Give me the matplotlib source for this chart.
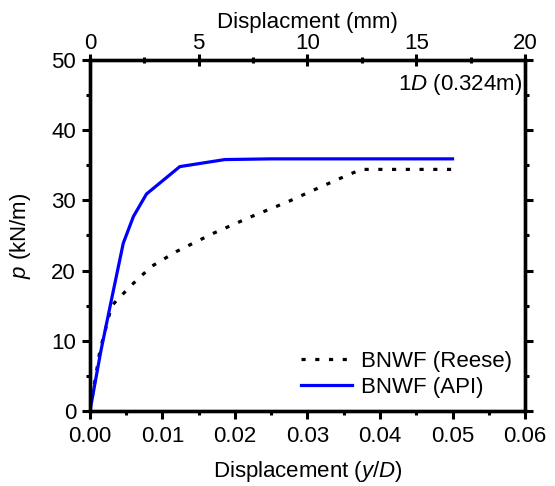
import matplotlib.pyplot as plt
from matplotlib.ticker import MultipleLocator

plt.rcParams['font.family'] = ['Liberation Sans', 'DejaVu Sans']
plt.rcParams['mathtext.fontset'] = 'custom'
plt.rcParams['mathtext.it'] = 'Liberation Sans:italic'
plt.rcParams['mathtext.rm'] = 'Liberation Sans'

# y/D and p (kN/m)
reese_x = [0.0, 0.0014, 0.003, 0.0057, 0.0085, 0.0119, 0.017, 0.0223, 0.0273, 0.0318, 0.036, 0.0375, 0.05]
reese_p = [0.0, 8.7, 15.0, 17.9, 20.6, 22.7, 25.3, 27.7, 29.8, 31.9, 33.8, 34.4, 34.4]

api_x = [0.0, 0.0015, 0.003, 0.0046, 0.006, 0.0078, 0.0124, 0.0186, 0.025, 0.05]
api_p = [0.0, 8.5, 16.0, 23.9, 27.7, 30.9, 34.8, 35.8, 35.9, 35.9]

fs = 16

fig = plt.figure(figsize=(5.55, 4.86), dpi=100)
ax = fig.add_axes([0.162, 0.154, 0.784, 0.723])

ax.plot(reese_x, reese_p, color='black', lw=2.3, linestyle=(0, (1.3, 3.0)), label='BNWF (Reese)')
ax.plot(api_x, api_p, color='#0000ff', lw=2.3, label='BNWF (API)')

ax.set_xlim(0, 0.06)
ax.set_ylim(0, 50)
ax.xaxis.set_major_locator(MultipleLocator(0.01))
ax.xaxis.set_minor_locator(MultipleLocator(0.005))
ax.yaxis.set_major_locator(MultipleLocator(10))
ax.yaxis.set_minor_locator(MultipleLocator(5))
ax.xaxis.set_major_formatter(plt.FormatStrFormatter('%.2f'))

for s in ax.spines.values():
    s.set_linewidth(2.4)
ax.tick_params(which='both', direction='out', width=2.2, labelsize=fs, right=True)
ax.tick_params(which='major', length=6)
ax.tick_params(which='minor', length=3)
ax.tick_params(axis='x', pad=5)
ax.tick_params(axis='y', pad=4)

ax.set_xlabel('Displacement ($\\mathit{y/D}$)', fontsize=fs, labelpad=8)
ax.set_ylabel('$\\mathit{p}$ (kN/m)', fontsize=fs, labelpad=13)

top = ax.twiny()
top.set_xlim(0, 20)
top.xaxis.set_major_locator(MultipleLocator(5))
top.xaxis.set_minor_locator(MultipleLocator(2.5))
top.tick_params(which='both', direction='inout', width=2.2, labelsize=fs, pad=0)
top.tick_params(which='major', length=8)
top.tick_params(which='minor', length=4)
top.set_xlabel('Displacment (mm)', fontsize=fs, labelpad=4)
for s in top.spines.values():
    s.set_linewidth(2.4)

ax.text(0.993, 0.965, '1$\\mathit{D}$ (0.324m)', transform=ax.transAxes,
        ha='right', va='top', fontsize=fs)

ax.legend(loc='lower right', frameon=False, fontsize=fs, handlelength=2.3,
          borderaxespad=0.3, borderpad=0.3, labelspacing=0.22, handletextpad=0.4)

fig.savefig('out.png', dpi=100)
